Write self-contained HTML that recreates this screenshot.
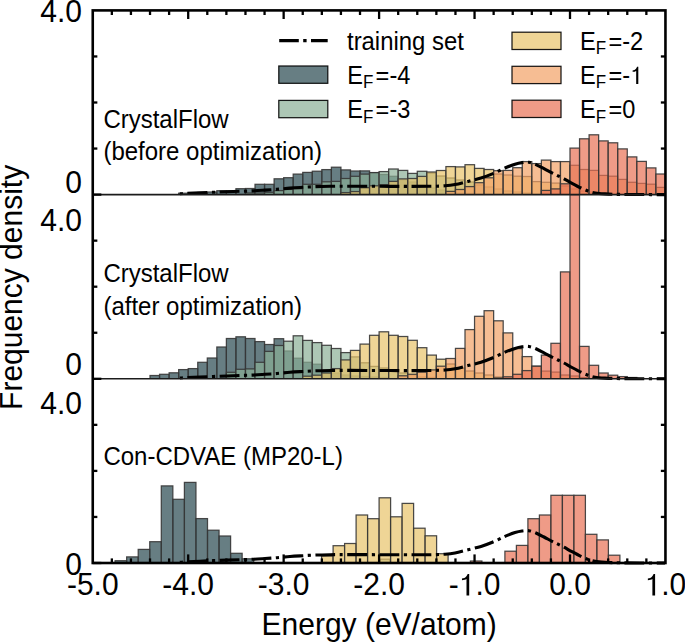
<!DOCTYPE html><html><head><meta charset="utf-8"><style>html,body{margin:0;padding:0;background:#fff;width:685px;height:642px;overflow:hidden}svg{display:block}text{font-family:"Liberation Sans",sans-serif;fill:#000}.one{fill-opacity:0}</style></head><body>
<svg width="685" height="642" viewBox="0 0 685 642">
<rect width="685" height="642" fill="#fff"/>
<defs>
<clipPath id="c194"><rect x="92.75" y="10.40" width="572.70" height="184.20"/></clipPath>
<clipPath id="d194"><rect x="92.75" y="10.40" width="572.70" height="187.20"/></clipPath>
<clipPath id="c378"><rect x="92.75" y="194.60" width="572.70" height="184.20"/></clipPath>
<clipPath id="d378"><rect x="92.75" y="194.60" width="572.70" height="187.20"/></clipPath>
<clipPath id="c563"><rect x="92.75" y="378.80" width="572.70" height="184.20"/></clipPath>
<clipPath id="d563"><rect x="92.75" y="378.80" width="572.70" height="187.20"/></clipPath>
</defs>
<g clip-path="url(#c194)">
<g fill="#26474F" fill-opacity="0.70" stroke="#363636" stroke-opacity="0.90" stroke-width="1.25"><rect x="178.66" y="193.20" width="9.54" height="1.40"/><rect x="188.20" y="192.80" width="9.54" height="1.80"/><rect x="197.75" y="192.50" width="9.54" height="2.10"/><rect x="207.29" y="192.00" width="9.54" height="2.60"/><rect x="216.83" y="190.70" width="9.54" height="3.90"/><rect x="226.38" y="190.70" width="9.54" height="3.90"/><rect x="235.93" y="188.70" width="9.54" height="5.90"/><rect x="245.47" y="188.50" width="9.54" height="6.10"/><rect x="255.01" y="184.30" width="9.55" height="10.30"/><rect x="264.56" y="184.30" width="9.55" height="10.30"/><rect x="274.11" y="178.80" width="9.55" height="15.80"/><rect x="283.65" y="177.70" width="9.55" height="16.90"/><rect x="293.19" y="174.10" width="9.55" height="20.50"/><rect x="302.74" y="172.40" width="9.55" height="22.20"/><rect x="312.28" y="171.20" width="9.55" height="23.40"/><rect x="321.83" y="169.60" width="9.55" height="25.00"/><rect x="331.38" y="167.20" width="9.55" height="27.40"/><rect x="340.92" y="169.90" width="9.55" height="24.70"/><rect x="350.46" y="171.00" width="9.55" height="23.60"/><rect x="360.01" y="170.90" width="9.55" height="23.70"/><rect x="369.56" y="172.60" width="9.55" height="22.00"/><rect x="379.10" y="174.50" width="9.55" height="20.10"/><rect x="388.64" y="176.30" width="9.55" height="18.30"/><rect x="398.19" y="180.00" width="9.55" height="14.60"/><rect x="407.74" y="182.00" width="9.55" height="12.60"/><rect x="417.28" y="185.00" width="9.55" height="9.60"/><rect x="426.82" y="188.00" width="9.55" height="6.60"/><rect x="436.37" y="190.00" width="9.55" height="4.60"/><rect x="445.92" y="191.50" width="9.55" height="3.10"/><rect x="455.46" y="192.50" width="9.55" height="2.10"/><rect x="465.00" y="193.20" width="9.55" height="1.40"/></g>
<g fill="#8AAF95" fill-opacity="0.70" stroke="#363636" stroke-opacity="0.90" stroke-width="1.25"><rect x="245.47" y="193.00" width="9.54" height="1.60"/><rect x="255.01" y="193.00" width="9.55" height="1.60"/><rect x="264.56" y="192.30" width="9.55" height="2.30"/><rect x="274.11" y="190.60" width="9.55" height="4.00"/><rect x="283.65" y="189.40" width="9.55" height="5.20"/><rect x="293.19" y="188.70" width="9.55" height="5.90"/><rect x="302.74" y="184.30" width="9.55" height="10.30"/><rect x="312.28" y="184.30" width="9.55" height="10.30"/><rect x="321.83" y="181.80" width="9.55" height="12.80"/><rect x="331.38" y="181.40" width="9.55" height="13.20"/><rect x="340.92" y="178.50" width="9.55" height="16.10"/><rect x="350.46" y="176.30" width="9.55" height="18.30"/><rect x="360.01" y="174.10" width="9.55" height="20.50"/><rect x="369.56" y="172.60" width="9.55" height="22.00"/><rect x="379.10" y="171.60" width="9.55" height="23.00"/><rect x="388.64" y="169.00" width="9.55" height="25.60"/><rect x="398.19" y="170.40" width="9.55" height="24.20"/><rect x="407.74" y="173.40" width="9.55" height="21.20"/><rect x="417.28" y="171.30" width="9.55" height="23.30"/><rect x="426.82" y="173.00" width="9.55" height="21.60"/><rect x="436.37" y="176.00" width="9.55" height="18.60"/><rect x="445.92" y="178.00" width="9.55" height="16.60"/><rect x="455.46" y="180.00" width="9.55" height="14.60"/><rect x="465.00" y="182.00" width="9.55" height="12.60"/><rect x="474.55" y="185.00" width="9.55" height="9.60"/><rect x="484.09" y="187.00" width="9.55" height="7.60"/><rect x="493.64" y="189.00" width="9.55" height="5.60"/><rect x="503.19" y="191.00" width="9.55" height="3.60"/><rect x="512.73" y="192.00" width="9.54" height="2.60"/><rect x="522.27" y="193.00" width="9.54" height="1.60"/></g>
<g fill="#E8C369" fill-opacity="0.70" stroke="#363636" stroke-opacity="0.90" stroke-width="1.25"><rect x="340.92" y="192.60" width="9.55" height="2.00"/><rect x="350.46" y="191.60" width="9.55" height="3.00"/><rect x="360.01" y="187.70" width="9.55" height="6.90"/><rect x="369.56" y="185.80" width="9.55" height="8.80"/><rect x="379.10" y="184.70" width="9.55" height="9.90"/><rect x="388.64" y="181.40" width="9.55" height="13.20"/><rect x="398.19" y="178.90" width="9.55" height="15.70"/><rect x="407.74" y="178.50" width="9.55" height="16.10"/><rect x="417.28" y="176.40" width="9.55" height="18.20"/><rect x="426.82" y="172.00" width="9.55" height="22.60"/><rect x="436.37" y="170.50" width="9.55" height="24.10"/><rect x="445.92" y="166.60" width="9.55" height="28.00"/><rect x="455.46" y="166.90" width="9.55" height="27.70"/><rect x="465.00" y="164.70" width="9.55" height="29.90"/><rect x="474.55" y="168.40" width="9.55" height="26.20"/><rect x="484.09" y="169.50" width="9.55" height="25.10"/><rect x="493.64" y="174.00" width="9.55" height="20.60"/><rect x="503.19" y="175.00" width="9.55" height="19.60"/><rect x="512.73" y="176.20" width="9.54" height="18.40"/><rect x="522.27" y="176.50" width="9.54" height="18.10"/><rect x="531.82" y="181.60" width="9.54" height="13.00"/><rect x="541.37" y="182.30" width="9.54" height="12.30"/><rect x="550.91" y="183.10" width="9.54" height="11.50"/><rect x="560.45" y="186.00" width="9.54" height="8.60"/><rect x="570.00" y="189.00" width="9.54" height="5.60"/><rect x="579.55" y="191.00" width="9.54" height="3.60"/><rect x="589.09" y="192.00" width="9.54" height="2.60"/><rect x="598.63" y="193.00" width="9.54" height="1.60"/></g>
<g fill="#F2A165" fill-opacity="0.70" stroke="#363636" stroke-opacity="0.90" stroke-width="1.25"><rect x="445.92" y="191.40" width="9.55" height="3.20"/><rect x="455.46" y="189.50" width="9.55" height="5.10"/><rect x="465.00" y="186.60" width="9.55" height="8.00"/><rect x="474.55" y="182.70" width="9.55" height="11.90"/><rect x="484.09" y="177.80" width="9.55" height="16.80"/><rect x="493.64" y="170.70" width="9.55" height="23.90"/><rect x="503.19" y="170.40" width="9.55" height="24.20"/><rect x="512.73" y="167.70" width="9.54" height="26.90"/><rect x="522.27" y="161.60" width="9.54" height="33.00"/><rect x="531.82" y="163.60" width="9.54" height="31.00"/><rect x="541.37" y="160.10" width="9.54" height="34.50"/><rect x="550.91" y="161.60" width="9.54" height="33.00"/><rect x="560.45" y="161.60" width="9.54" height="33.00"/><rect x="570.00" y="165.30" width="9.54" height="29.30"/><rect x="579.55" y="169.50" width="9.54" height="25.10"/><rect x="589.09" y="170.40" width="9.54" height="24.20"/><rect x="598.63" y="175.40" width="9.54" height="19.20"/><rect x="608.18" y="176.20" width="9.54" height="18.40"/><rect x="617.73" y="179.40" width="9.54" height="15.20"/><rect x="627.27" y="182.30" width="9.54" height="12.30"/><rect x="636.81" y="183.40" width="9.54" height="11.20"/><rect x="646.36" y="184.20" width="9.54" height="10.40"/><rect x="655.90" y="187.40" width="9.54" height="7.20"/></g>
<g fill="#E87054" fill-opacity="0.70" stroke="#363636" stroke-opacity="0.90" stroke-width="1.25"><rect x="541.37" y="190.40" width="9.54" height="4.20"/><rect x="550.91" y="188.90" width="9.54" height="5.70"/><rect x="560.45" y="183.80" width="9.54" height="10.80"/><rect x="570.00" y="148.10" width="9.54" height="46.50"/><rect x="579.55" y="138.80" width="9.54" height="55.80"/><rect x="589.09" y="134.80" width="9.54" height="59.80"/><rect x="598.63" y="140.90" width="9.54" height="53.70"/><rect x="608.18" y="142.80" width="9.54" height="51.80"/><rect x="617.73" y="148.90" width="9.54" height="45.70"/><rect x="627.27" y="156.90" width="9.54" height="37.70"/><rect x="636.81" y="161.40" width="9.54" height="33.20"/><rect x="646.36" y="167.90" width="9.54" height="26.70"/><rect x="655.90" y="174.00" width="9.54" height="20.60"/></g>
</g>
<g clip-path="url(#d194)">
<path d="M178.00,194.00 C179.17,193.90 181.33,193.60 185.00,193.40 C188.67,193.20 194.17,193.03 200.00,192.80 C205.83,192.57 213.33,192.25 220.00,192.00 C226.67,191.75 234.67,191.48 240.00,191.30 C245.33,191.12 247.83,191.10 252.00,190.90 C256.17,190.70 260.83,190.37 265.00,190.10 C269.17,189.83 272.83,189.63 277.00,189.30 C281.17,188.97 285.67,188.43 290.00,188.10 C294.33,187.77 298.67,187.55 303.00,187.30 C307.33,187.05 311.50,186.77 316.00,186.60 C320.50,186.43 324.33,186.37 330.00,186.30 C335.67,186.23 341.67,186.20 350.00,186.20 C358.33,186.20 370.00,186.27 380.00,186.30 C390.00,186.33 401.67,186.40 410.00,186.40 C418.33,186.40 424.17,186.40 430.00,186.30 C435.83,186.20 440.83,186.08 445.00,185.80 C449.17,185.52 451.17,185.33 455.00,184.60 C458.83,183.87 463.67,182.50 468.00,181.40 C472.33,180.30 476.83,179.30 481.00,178.00 C485.17,176.70 489.00,175.27 493.00,173.60 C497.00,171.93 501.33,169.57 505.00,168.00 C508.67,166.43 512.17,165.10 515.00,164.20 C517.83,163.30 519.67,162.92 522.00,162.60 C524.33,162.28 526.67,161.97 529.00,162.30 C531.33,162.63 533.50,163.55 536.00,164.60 C538.50,165.65 541.33,167.22 544.00,168.60 C546.67,169.98 549.67,171.70 552.00,172.90 C554.33,174.10 556.00,174.82 558.00,175.80 C560.00,176.78 561.67,177.55 564.00,178.80 C566.33,180.05 569.17,181.77 572.00,183.30 C574.83,184.83 578.33,186.72 581.00,188.00 C583.67,189.28 585.67,190.17 588.00,191.00 C590.33,191.83 592.17,192.52 595.00,193.00 C597.83,193.48 600.83,193.67 605.00,193.90 C609.17,194.13 614.17,194.29 620.00,194.40 C625.83,194.51 632.50,194.52 640.00,194.55 C647.50,194.58 660.83,194.59 665.00,194.60" fill="none" stroke="#000" stroke-width="3.1" stroke-dasharray="19.8 4.5 3.2 4.5" stroke-dashoffset="22.31"/>
</g>
<g clip-path="url(#c378)">
<g fill="#26474F" fill-opacity="0.70" stroke="#363636" stroke-opacity="0.90" stroke-width="1.25"><rect x="150.02" y="375.50" width="9.54" height="3.30"/><rect x="159.56" y="374.30" width="9.54" height="4.50"/><rect x="169.11" y="372.80" width="9.54" height="6.00"/><rect x="178.66" y="369.60" width="9.54" height="9.20"/><rect x="188.20" y="368.60" width="9.54" height="10.20"/><rect x="197.75" y="362.30" width="9.54" height="16.50"/><rect x="207.29" y="358.00" width="9.54" height="20.80"/><rect x="216.83" y="347.00" width="9.54" height="31.80"/><rect x="226.38" y="338.50" width="9.54" height="40.30"/><rect x="235.93" y="336.80" width="9.54" height="42.00"/><rect x="245.47" y="338.50" width="9.54" height="40.30"/><rect x="255.01" y="341.60" width="9.55" height="37.20"/><rect x="264.56" y="344.50" width="9.55" height="34.30"/><rect x="274.11" y="338.70" width="9.55" height="40.10"/><rect x="283.65" y="351.00" width="9.55" height="27.80"/><rect x="293.19" y="358.20" width="9.55" height="20.60"/><rect x="302.74" y="362.30" width="9.55" height="16.50"/><rect x="312.28" y="364.20" width="9.55" height="14.60"/><rect x="321.83" y="370.00" width="9.55" height="8.80"/><rect x="331.38" y="373.00" width="9.55" height="5.80"/><rect x="340.92" y="375.00" width="9.55" height="3.80"/><rect x="350.46" y="376.00" width="9.55" height="2.80"/><rect x="360.01" y="376.50" width="9.55" height="2.30"/><rect x="369.56" y="377.00" width="9.55" height="1.80"/><rect x="379.10" y="377.50" width="9.55" height="1.30"/></g>
<g fill="#8AAF95" fill-opacity="0.70" stroke="#363636" stroke-opacity="0.90" stroke-width="1.25"><rect x="226.38" y="372.30" width="9.54" height="6.50"/><rect x="235.93" y="369.30" width="9.54" height="9.50"/><rect x="245.47" y="368.90" width="9.54" height="9.90"/><rect x="255.01" y="362.30" width="9.55" height="16.50"/><rect x="264.56" y="351.40" width="9.55" height="27.40"/><rect x="274.11" y="345.50" width="9.55" height="33.30"/><rect x="283.65" y="341.20" width="9.55" height="37.60"/><rect x="293.19" y="335.80" width="9.55" height="43.00"/><rect x="302.74" y="340.40" width="9.55" height="38.40"/><rect x="312.28" y="342.60" width="9.55" height="36.20"/><rect x="321.83" y="345.30" width="9.55" height="33.50"/><rect x="331.38" y="348.50" width="9.55" height="30.30"/><rect x="340.92" y="352.60" width="9.55" height="26.20"/><rect x="350.46" y="356.90" width="9.55" height="21.90"/><rect x="360.01" y="362.80" width="9.55" height="16.00"/><rect x="369.56" y="366.40" width="9.55" height="12.40"/><rect x="379.10" y="368.00" width="9.55" height="10.80"/><rect x="388.64" y="371.00" width="9.55" height="7.80"/><rect x="398.19" y="373.00" width="9.55" height="5.80"/><rect x="407.74" y="375.00" width="9.55" height="3.80"/><rect x="417.28" y="377.00" width="9.55" height="1.80"/><rect x="426.82" y="377.50" width="9.55" height="1.30"/></g>
<g fill="#E8C369" fill-opacity="0.70" stroke="#363636" stroke-opacity="0.90" stroke-width="1.25"><rect x="302.74" y="376.20" width="9.55" height="2.60"/><rect x="312.28" y="375.20" width="9.55" height="3.60"/><rect x="321.83" y="373.00" width="9.55" height="5.80"/><rect x="331.38" y="368.60" width="9.55" height="10.20"/><rect x="340.92" y="359.90" width="9.55" height="18.90"/><rect x="350.46" y="350.40" width="9.55" height="28.40"/><rect x="360.01" y="344.10" width="9.55" height="34.70"/><rect x="369.56" y="335.30" width="9.55" height="43.50"/><rect x="379.10" y="331.80" width="9.55" height="47.00"/><rect x="388.64" y="335.30" width="9.55" height="43.50"/><rect x="398.19" y="336.50" width="9.55" height="42.30"/><rect x="407.74" y="340.30" width="9.55" height="38.50"/><rect x="417.28" y="347.70" width="9.55" height="31.10"/><rect x="426.82" y="355.10" width="9.55" height="23.70"/><rect x="436.37" y="359.20" width="9.55" height="19.60"/><rect x="445.92" y="364.00" width="9.55" height="14.80"/><rect x="455.46" y="368.00" width="9.55" height="10.80"/><rect x="465.00" y="371.00" width="9.55" height="7.80"/><rect x="474.55" y="373.00" width="9.55" height="5.80"/><rect x="484.09" y="375.00" width="9.55" height="3.80"/><rect x="493.64" y="377.00" width="9.55" height="1.80"/></g>
<g fill="#F2A165" fill-opacity="0.70" stroke="#363636" stroke-opacity="0.90" stroke-width="1.25"><rect x="398.19" y="375.80" width="9.55" height="3.00"/><rect x="407.74" y="374.30" width="9.55" height="4.50"/><rect x="417.28" y="372.10" width="9.55" height="6.70"/><rect x="426.82" y="369.90" width="9.55" height="8.90"/><rect x="436.37" y="366.20" width="9.55" height="12.60"/><rect x="445.92" y="358.50" width="9.55" height="20.30"/><rect x="455.46" y="348.40" width="9.55" height="30.40"/><rect x="465.00" y="329.60" width="9.55" height="49.20"/><rect x="474.55" y="316.30" width="9.55" height="62.50"/><rect x="484.09" y="310.70" width="9.55" height="68.10"/><rect x="493.64" y="320.80" width="9.55" height="58.00"/><rect x="503.19" y="332.90" width="9.55" height="45.90"/><rect x="512.73" y="348.60" width="9.54" height="30.20"/><rect x="522.27" y="356.60" width="9.54" height="22.20"/><rect x="531.82" y="366.20" width="9.54" height="12.60"/><rect x="541.37" y="371.10" width="9.54" height="7.70"/><rect x="550.91" y="372.10" width="9.54" height="6.70"/><rect x="560.45" y="375.00" width="9.54" height="3.80"/><rect x="570.00" y="376.00" width="9.54" height="2.80"/><rect x="579.55" y="377.50" width="9.54" height="1.30"/></g>
<g fill="#E87054" fill-opacity="0.70" stroke="#363636" stroke-opacity="0.90" stroke-width="1.25"><rect x="493.64" y="378.00" width="9.55" height="0.80"/><rect x="503.19" y="376.80" width="9.55" height="2.00"/><rect x="512.73" y="374.30" width="9.54" height="4.50"/><rect x="522.27" y="370.60" width="9.54" height="8.20"/><rect x="531.82" y="366.20" width="9.54" height="12.60"/><rect x="541.37" y="355.10" width="9.54" height="23.70"/><rect x="550.91" y="343.30" width="9.54" height="35.50"/><rect x="560.45" y="271.90" width="9.54" height="106.90"/><rect x="570.00" y="194.60" width="9.54" height="184.20"/><rect x="579.55" y="346.40" width="9.54" height="32.40"/><rect x="589.09" y="365.30" width="9.54" height="13.50"/><rect x="598.63" y="373.00" width="9.54" height="5.80"/><rect x="608.18" y="375.20" width="9.54" height="3.60"/><rect x="617.73" y="376.60" width="9.54" height="2.20"/><rect x="627.27" y="377.50" width="9.54" height="1.30"/></g>
</g>
<g clip-path="url(#d378)">
<path d="M178.00,378.20 C179.17,378.10 181.33,377.80 185.00,377.60 C188.67,377.40 194.17,377.23 200.00,377.00 C205.83,376.77 213.33,376.45 220.00,376.20 C226.67,375.95 234.67,375.68 240.00,375.50 C245.33,375.32 247.83,375.30 252.00,375.10 C256.17,374.90 260.83,374.57 265.00,374.30 C269.17,374.03 272.83,373.83 277.00,373.50 C281.17,373.17 285.67,372.63 290.00,372.30 C294.33,371.97 298.67,371.75 303.00,371.50 C307.33,371.25 311.50,370.97 316.00,370.80 C320.50,370.63 324.33,370.57 330.00,370.50 C335.67,370.43 341.67,370.40 350.00,370.40 C358.33,370.40 370.00,370.47 380.00,370.50 C390.00,370.53 401.67,370.60 410.00,370.60 C418.33,370.60 424.17,370.60 430.00,370.50 C435.83,370.40 440.83,370.28 445.00,370.00 C449.17,369.72 451.17,369.53 455.00,368.80 C458.83,368.07 463.67,366.70 468.00,365.60 C472.33,364.50 476.83,363.50 481.00,362.20 C485.17,360.90 489.00,359.47 493.00,357.80 C497.00,356.13 501.33,353.77 505.00,352.20 C508.67,350.63 512.17,349.30 515.00,348.40 C517.83,347.50 519.67,347.12 522.00,346.80 C524.33,346.48 526.67,346.17 529.00,346.50 C531.33,346.83 533.50,347.75 536.00,348.80 C538.50,349.85 541.33,351.42 544.00,352.80 C546.67,354.18 549.67,355.90 552.00,357.10 C554.33,358.30 556.00,359.02 558.00,360.00 C560.00,360.98 561.67,361.75 564.00,363.00 C566.33,364.25 569.17,365.97 572.00,367.50 C574.83,369.03 578.33,370.92 581.00,372.20 C583.67,373.48 585.67,374.37 588.00,375.20 C590.33,376.03 592.17,376.72 595.00,377.20 C597.83,377.68 600.83,377.87 605.00,378.10 C609.17,378.33 614.17,378.49 620.00,378.60 C625.83,378.71 632.50,378.72 640.00,378.75 C647.50,378.78 660.83,378.79 665.00,378.80" fill="none" stroke="#000" stroke-width="3.1" stroke-dasharray="19.8 4.5 3.2 4.5" stroke-dashoffset="22.31"/>
</g>
<g clip-path="url(#c563)">
<g fill="#26474F" fill-opacity="0.70" stroke="#363636" stroke-opacity="0.90" stroke-width="1.25"><rect x="115.10" y="560.70" width="11.55" height="2.30"/><rect x="126.65" y="556.90" width="11.55" height="6.10"/><rect x="138.20" y="549.40" width="11.55" height="13.60"/><rect x="149.75" y="541.70" width="11.55" height="21.30"/><rect x="161.30" y="485.90" width="11.55" height="77.10"/><rect x="172.85" y="499.30" width="11.55" height="63.70"/><rect x="184.40" y="482.40" width="11.55" height="80.60"/><rect x="195.95" y="518.60" width="11.55" height="44.40"/><rect x="207.50" y="530.20" width="11.55" height="32.80"/><rect x="219.05" y="536.00" width="11.55" height="27.00"/><rect x="230.60" y="553.30" width="11.55" height="9.70"/><rect x="242.15" y="558.80" width="11.55" height="4.20"/></g>
<g fill="#8AAF95" fill-opacity="0.70" stroke="#363636" stroke-opacity="0.90" stroke-width="1.25"><rect x="380.30" y="559.20" width="9.70" height="3.80"/></g>
<g fill="#E8C369" fill-opacity="0.70" stroke="#363636" stroke-opacity="0.90" stroke-width="1.25"><rect x="321.60" y="555.90" width="11.50" height="7.10"/><rect x="333.10" y="545.70" width="11.50" height="17.30"/><rect x="344.60" y="543.50" width="11.50" height="19.50"/><rect x="356.10" y="515.00" width="11.50" height="48.00"/><rect x="367.60" y="518.70" width="11.50" height="44.30"/><rect x="379.10" y="497.80" width="11.50" height="65.20"/><rect x="390.60" y="516.80" width="11.50" height="46.20"/><rect x="402.10" y="503.40" width="11.50" height="59.60"/><rect x="413.60" y="528.20" width="11.50" height="34.80"/><rect x="425.10" y="535.80" width="11.50" height="27.20"/><rect x="436.60" y="553.70" width="11.50" height="9.30"/></g>
<g fill="#E87054" fill-opacity="0.70" stroke="#363636" stroke-opacity="0.90" stroke-width="1.25"><rect x="470.40" y="561.00" width="11.50" height="2.00"/><rect x="504.90" y="551.20" width="11.50" height="11.80"/><rect x="516.40" y="545.40" width="11.50" height="17.60"/><rect x="527.90" y="518.70" width="11.50" height="44.30"/><rect x="539.40" y="515.00" width="11.50" height="48.00"/><rect x="550.90" y="495.30" width="11.50" height="67.70"/><rect x="562.40" y="495.30" width="11.50" height="67.70"/><rect x="573.90" y="495.30" width="11.50" height="67.70"/><rect x="585.40" y="534.30" width="11.50" height="28.70"/><rect x="596.90" y="539.90" width="11.50" height="23.10"/><rect x="608.40" y="555.20" width="11.50" height="7.80"/></g>
</g>
<g clip-path="url(#d563)">
<path d="M178.00,562.40 C179.17,562.30 181.33,562.00 185.00,561.80 C188.67,561.60 194.17,561.43 200.00,561.20 C205.83,560.97 213.33,560.65 220.00,560.40 C226.67,560.15 234.67,559.88 240.00,559.70 C245.33,559.52 247.83,559.50 252.00,559.30 C256.17,559.10 260.83,558.77 265.00,558.50 C269.17,558.23 272.83,558.03 277.00,557.70 C281.17,557.37 285.67,556.83 290.00,556.50 C294.33,556.17 298.67,555.95 303.00,555.70 C307.33,555.45 311.50,555.17 316.00,555.00 C320.50,554.83 324.33,554.77 330.00,554.70 C335.67,554.63 341.67,554.60 350.00,554.60 C358.33,554.60 370.00,554.67 380.00,554.70 C390.00,554.73 401.67,554.80 410.00,554.80 C418.33,554.80 424.17,554.80 430.00,554.70 C435.83,554.60 440.83,554.48 445.00,554.20 C449.17,553.92 451.17,553.73 455.00,553.00 C458.83,552.27 463.67,550.90 468.00,549.80 C472.33,548.70 476.83,547.70 481.00,546.40 C485.17,545.10 489.00,543.67 493.00,542.00 C497.00,540.33 501.33,537.97 505.00,536.40 C508.67,534.83 512.17,533.50 515.00,532.60 C517.83,531.70 519.67,531.32 522.00,531.00 C524.33,530.68 526.67,530.37 529.00,530.70 C531.33,531.03 533.50,531.95 536.00,533.00 C538.50,534.05 541.33,535.62 544.00,537.00 C546.67,538.38 549.67,540.10 552.00,541.30 C554.33,542.50 556.00,543.22 558.00,544.20 C560.00,545.18 561.67,545.95 564.00,547.20 C566.33,548.45 569.17,550.17 572.00,551.70 C574.83,553.23 578.33,555.12 581.00,556.40 C583.67,557.68 585.67,558.57 588.00,559.40 C590.33,560.23 592.17,560.92 595.00,561.40 C597.83,561.88 600.83,562.07 605.00,562.30 C609.17,562.53 614.17,562.69 620.00,562.80 C625.83,562.91 632.50,562.92 640.00,562.95 C647.50,562.98 660.83,562.99 665.00,563.00" fill="none" stroke="#000" stroke-width="3.1" stroke-dasharray="19.8 4.5 3.2 4.5" stroke-dashoffset="22.31"/>
</g>
<line x1="92.75" y1="194.60" x2="665.45" y2="194.60" stroke="#1c1c1c" stroke-width="1.6"/>
<line x1="92.75" y1="378.80" x2="665.45" y2="378.80" stroke="#1c1c1c" stroke-width="1.6"/>
<g stroke="#000" stroke-width="2.3"><line x1="111.84" y1="563.00" x2="111.84" y2="558.40"/><line x1="111.84" y1="10.40" x2="111.84" y2="15.00"/><line x1="130.93" y1="563.00" x2="130.93" y2="558.40"/><line x1="130.93" y1="10.40" x2="130.93" y2="15.00"/><line x1="150.02" y1="563.00" x2="150.02" y2="558.40"/><line x1="150.02" y1="10.40" x2="150.02" y2="15.00"/><line x1="169.11" y1="563.00" x2="169.11" y2="558.40"/><line x1="169.11" y1="10.40" x2="169.11" y2="15.00"/><line x1="188.20" y1="563.00" x2="188.20" y2="554.40"/><line x1="188.20" y1="10.40" x2="188.20" y2="19.00"/><line x1="207.29" y1="563.00" x2="207.29" y2="558.40"/><line x1="207.29" y1="10.40" x2="207.29" y2="15.00"/><line x1="226.38" y1="563.00" x2="226.38" y2="558.40"/><line x1="226.38" y1="10.40" x2="226.38" y2="15.00"/><line x1="245.47" y1="563.00" x2="245.47" y2="558.40"/><line x1="245.47" y1="10.40" x2="245.47" y2="15.00"/><line x1="264.56" y1="563.00" x2="264.56" y2="558.40"/><line x1="264.56" y1="10.40" x2="264.56" y2="15.00"/><line x1="283.65" y1="563.00" x2="283.65" y2="554.40"/><line x1="283.65" y1="10.40" x2="283.65" y2="19.00"/><line x1="302.74" y1="563.00" x2="302.74" y2="558.40"/><line x1="302.74" y1="10.40" x2="302.74" y2="15.00"/><line x1="321.83" y1="563.00" x2="321.83" y2="558.40"/><line x1="321.83" y1="10.40" x2="321.83" y2="15.00"/><line x1="340.92" y1="563.00" x2="340.92" y2="558.40"/><line x1="340.92" y1="10.40" x2="340.92" y2="15.00"/><line x1="360.01" y1="563.00" x2="360.01" y2="558.40"/><line x1="360.01" y1="10.40" x2="360.01" y2="15.00"/><line x1="379.10" y1="563.00" x2="379.10" y2="554.40"/><line x1="379.10" y1="10.40" x2="379.10" y2="19.00"/><line x1="398.19" y1="563.00" x2="398.19" y2="558.40"/><line x1="398.19" y1="10.40" x2="398.19" y2="15.00"/><line x1="417.28" y1="563.00" x2="417.28" y2="558.40"/><line x1="417.28" y1="10.40" x2="417.28" y2="15.00"/><line x1="436.37" y1="563.00" x2="436.37" y2="558.40"/><line x1="436.37" y1="10.40" x2="436.37" y2="15.00"/><line x1="455.46" y1="563.00" x2="455.46" y2="558.40"/><line x1="455.46" y1="10.40" x2="455.46" y2="15.00"/><line x1="474.55" y1="563.00" x2="474.55" y2="554.40"/><line x1="474.55" y1="10.40" x2="474.55" y2="19.00"/><line x1="493.64" y1="563.00" x2="493.64" y2="558.40"/><line x1="493.64" y1="10.40" x2="493.64" y2="15.00"/><line x1="512.73" y1="563.00" x2="512.73" y2="558.40"/><line x1="512.73" y1="10.40" x2="512.73" y2="15.00"/><line x1="531.82" y1="563.00" x2="531.82" y2="558.40"/><line x1="531.82" y1="10.40" x2="531.82" y2="15.00"/><line x1="550.91" y1="563.00" x2="550.91" y2="558.40"/><line x1="550.91" y1="10.40" x2="550.91" y2="15.00"/><line x1="570.00" y1="563.00" x2="570.00" y2="554.40"/><line x1="570.00" y1="10.40" x2="570.00" y2="19.00"/><line x1="589.09" y1="563.00" x2="589.09" y2="558.40"/><line x1="589.09" y1="10.40" x2="589.09" y2="15.00"/><line x1="608.18" y1="563.00" x2="608.18" y2="558.40"/><line x1="608.18" y1="10.40" x2="608.18" y2="15.00"/><line x1="627.27" y1="563.00" x2="627.27" y2="558.40"/><line x1="627.27" y1="10.40" x2="627.27" y2="15.00"/><line x1="646.36" y1="563.00" x2="646.36" y2="558.40"/><line x1="646.36" y1="10.40" x2="646.36" y2="15.00"/><line x1="92.75" y1="148.55" x2="97.35" y2="148.55"/><line x1="665.45" y1="148.55" x2="660.85" y2="148.55"/><line x1="92.75" y1="102.50" x2="97.35" y2="102.50"/><line x1="665.45" y1="102.50" x2="660.85" y2="102.50"/><line x1="92.75" y1="56.45" x2="97.35" y2="56.45"/><line x1="665.45" y1="56.45" x2="660.85" y2="56.45"/><line x1="92.75" y1="194.60" x2="101.35" y2="194.60"/><line x1="665.45" y1="194.60" x2="656.85" y2="194.60"/><line x1="92.75" y1="332.75" x2="97.35" y2="332.75"/><line x1="665.45" y1="332.75" x2="660.85" y2="332.75"/><line x1="92.75" y1="286.70" x2="97.35" y2="286.70"/><line x1="665.45" y1="286.70" x2="660.85" y2="286.70"/><line x1="92.75" y1="240.65" x2="97.35" y2="240.65"/><line x1="665.45" y1="240.65" x2="660.85" y2="240.65"/><line x1="92.75" y1="378.80" x2="101.35" y2="378.80"/><line x1="665.45" y1="378.80" x2="656.85" y2="378.80"/><line x1="92.75" y1="516.95" x2="97.35" y2="516.95"/><line x1="665.45" y1="516.95" x2="660.85" y2="516.95"/><line x1="92.75" y1="470.90" x2="97.35" y2="470.90"/><line x1="665.45" y1="470.90" x2="660.85" y2="470.90"/><line x1="92.75" y1="424.85" x2="97.35" y2="424.85"/><line x1="665.45" y1="424.85" x2="660.85" y2="424.85"/><line x1="92.75" y1="563.00" x2="101.35" y2="563.00"/><line x1="665.45" y1="563.00" x2="656.85" y2="563.00"/></g>
<rect x="92.75" y="10.40" width="572.70" height="552.60" fill="none" stroke="#000" stroke-width="2.6"/>
<line x1="279.2" y1="40.6" x2="327.7" y2="40.6" stroke="#000" stroke-width="3.1" stroke-dasharray="19.6 4.4 3.4 4.4"/>
<text x="0" y="0" font-size="23.9" text-anchor="start" transform="translate(347.00,49.60) scale(1,1.060)">training set</text>
<rect x="278.80" y="66.00" width="49" height="17.3" fill="#26474F" fill-opacity="0.70" stroke="#000" stroke-opacity="0.90" stroke-width="1.25"/>
<text x="0" y="0" font-size="23.6" transform="translate(347.20,84.00) scale(1,1.060)">E<tspan font-size="17" dy="4.1">F</tspan><tspan dy="-4.1" dx="2.3">=-4</tspan></text>
<rect x="278.80" y="100.40" width="49" height="17.3" fill="#8AAF95" fill-opacity="0.70" stroke="#000" stroke-opacity="0.90" stroke-width="1.25"/>
<text x="0" y="0" font-size="23.6" transform="translate(347.20,118.40) scale(1,1.060)">E<tspan font-size="17" dy="4.1">F</tspan><tspan dy="-4.1" dx="2.3">=-3</tspan></text>
<rect x="512.00" y="32.20" width="49" height="17.3" fill="#E8C369" fill-opacity="0.70" stroke="#000" stroke-opacity="0.90" stroke-width="1.25"/>
<text x="0" y="0" font-size="23.6" transform="translate(580.00,49.60) scale(1,1.060)">E<tspan font-size="17" dy="4.1">F</tspan><tspan dy="-4.1" dx="2.3">=-2</tspan></text>
<rect x="512.00" y="66.30" width="49" height="17.3" fill="#F2A165" fill-opacity="0.70" stroke="#000" stroke-opacity="0.90" stroke-width="1.25"/>
<g transform="translate(580.00,84.00) scale(1,1.060)"><text id="lgk1" x="0" y="0" font-size="23.6" text-anchor="start">E<tspan font-size="17" dy="4.1">F</tspan><tspan dy="-4.1" dx="2.3">=-<tspan class="one">1</tspan></tspan></text><path d="M532 0L717 0L717 1409L606 1409C580 1300 470 1135 222 1107L222 993C360 997 468 1027 532 1069Z" transform="translate(50.050,0.000) scale(0.011523,-0.011523)"/></g>
<rect x="512.00" y="100.20" width="49" height="17.3" fill="#E87054" fill-opacity="0.70" stroke="#000" stroke-opacity="0.90" stroke-width="1.25"/>
<text x="0" y="0" font-size="23.6" transform="translate(580.00,118.40) scale(1,1.060)">E<tspan font-size="17" dy="4.1">F</tspan><tspan dy="-4.1" dx="2.3">=0</tspan></text>
<text x="0" y="0" font-size="30" text-anchor="end" transform="translate(82.00,21.60) scale(1,1.040)">4.0</text>
<text x="0" y="0" font-size="30" text-anchor="end" transform="translate(82.00,193.00) scale(1,1.040)">0</text>
<text x="0" y="0" font-size="30" text-anchor="end" transform="translate(82.00,231.30) scale(1,1.040)">4.0</text>
<text x="0" y="0" font-size="30" text-anchor="end" transform="translate(82.00,375.10) scale(1,1.040)">0</text>
<text x="0" y="0" font-size="30" text-anchor="end" transform="translate(82.00,413.90) scale(1,1.040)">4.0</text>
<text x="0" y="0" font-size="30" text-anchor="end" transform="translate(82.00,574.80) scale(1,1.040)">0</text>
<text x="0" y="0" font-size="30" text-anchor="middle" transform="translate(92.75,595.40) scale(1,1.040)">-5.0</text>
<text x="0" y="0" font-size="30" text-anchor="middle" transform="translate(188.20,595.40) scale(1,1.040)">-4.0</text>
<text x="0" y="0" font-size="30" text-anchor="middle" transform="translate(283.65,595.40) scale(1,1.040)">-3.0</text>
<text x="0" y="0" font-size="30" text-anchor="middle" transform="translate(379.10,595.40) scale(1,1.040)">-2.0</text>
<g transform="translate(474.55,595.40) scale(1,1.040)"><text id="xt4" x="0" y="0" font-size="30.0" text-anchor="middle">-<tspan class="one">1</tspan>.0</text><path d="M532 0L717 0L717 1409L606 1409C580 1300 470 1135 222 1107L222 993C360 997 468 1027 532 1069Z" transform="translate(-15.844,0.000) scale(0.014648,-0.014648)"/></g>
<text x="0" y="0" font-size="30" text-anchor="middle" transform="translate(570.00,595.40) scale(1,1.040)">0.0</text>
<g transform="translate(665.45,595.40) scale(1,1.040)"><text id="xt6" x="0" y="0" font-size="30.0" text-anchor="middle"><tspan class="one">1</tspan>.0</text><path d="M532 0L717 0L717 1409L606 1409C580 1300 470 1135 222 1107L222 993C360 997 468 1027 532 1069Z" transform="translate(-20.845,0.000) scale(0.014648,-0.014648)"/></g>
<text x="0" y="0" font-size="30.0" text-anchor="middle" transform="translate(379.10,635.20) scale(1,1.060)">Energy (eV/atom)</text>
<text x="0" y="0" font-size="30" text-anchor="middle" transform="translate(22.2,287.4) rotate(-90) scale(1,1.04)">Frequency density</text>
<text x="0" y="0" font-size="24.0" text-anchor="start" transform="translate(103.40,127.80) scale(1,1.060)">CrystalFlow</text>
<text x="0" y="0" font-size="24.0" text-anchor="start" transform="translate(103.40,159.90) scale(1,1.060)">(before optimization)</text>
<text x="0" y="0" font-size="24.0" text-anchor="start" transform="translate(103.40,282.40) scale(1,1.060)">CrystalFlow</text>
<text x="0" y="0" font-size="24.0" text-anchor="start" transform="translate(103.40,314.90) scale(1,1.060)">(after optimization)</text>
<text x="0" y="0" font-size="24.0" text-anchor="start" transform="translate(103.40,464.80) scale(1,1.060)">Con-CDVAE (MP20-L)</text>
</svg></body></html>
